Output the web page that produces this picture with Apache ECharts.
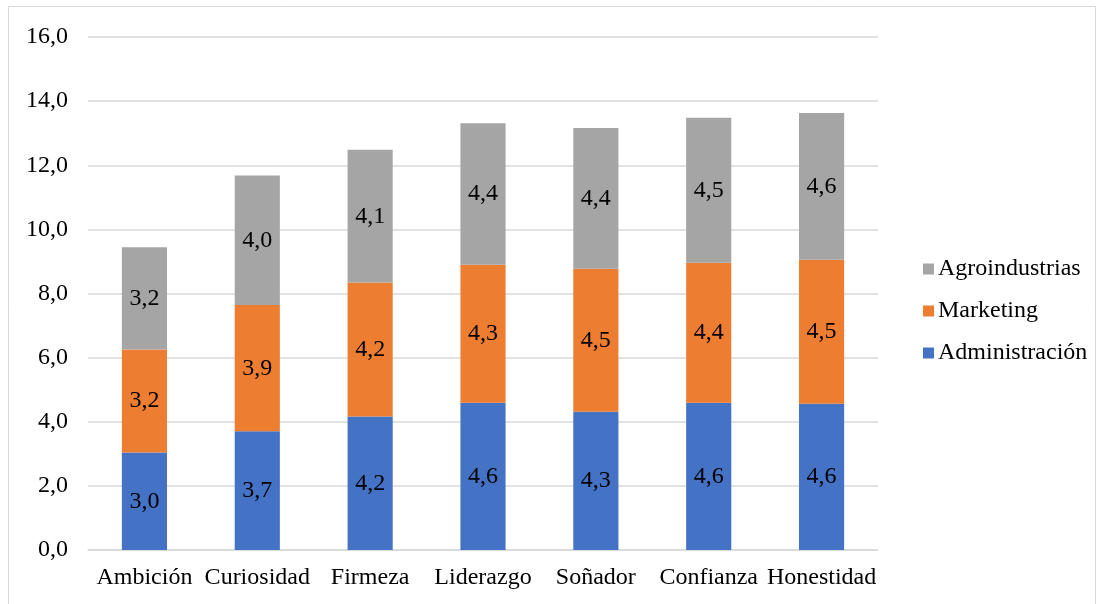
<!DOCTYPE html>
<html>
<head>
<meta charset="utf-8">
<script src="https://cdn.jsdelivr.net/npm/echarts@6/dist/echarts.min.js"></script>
<style>
  html, body { margin: 0; padding: 0; background: #fff; }
  #chart { width: 1103px; height: 604px; }
</style>
</head>
<body>
<div id="chart"></div>
<script>
const categories = ['Ambición', 'Curiosidad', 'Firmeza', 'Liderazgo', 'Soñador', 'Confianza', 'Honestidad']
const administracion = [3.04, 3.70, 4.16, 4.59, 4.31, 4.59, 4.56]
const marketing = [3.21, 3.94, 4.18, 4.31, 4.46, 4.37, 4.49]
const agroindustrias = [3.19, 4.04, 4.14, 4.41, 4.39, 4.52, 4.58]
const yTicks = { min: 0, max: 16, interval: 2 }

const fontFamily = '"Liberation Serif", "Times New Roman", serif'
const fmt = v => v.toFixed(1).replace('.', ',')

const chart = echarts.init(document.getElementById('chart'))

const makeSeries = (name, data, color) => ({
  name,
  type: 'bar',
  stack: 'total',
  data,
  barWidth: '40%',
  itemStyle: { color },
  label: {
    show: true,
    position: 'inside',
    color: '#000',
    fontFamily,
    fontSize: 24,
    formatter: p => fmt(p.value)
  }
})

const option = {
  animation: false,
  textStyle: { fontFamily },
  graphic: [{
    type: 'rect',
    shape: { x: 8.5, y: 6.5, width: 1087, height: 600 },
    style: { fill: 'none', stroke: '#d9d9d9', lineWidth: 1 },
    silent: true
  }],
  grid: {
    left: 88,
    right: 225,
    top: 37,
    bottom: 54
  },
  legend: {
    orient: 'vertical',
    left: 918,
    top: 252,
    data: ['Agroindustrias', 'Marketing', 'Administración'],
    icon: 'rect',
    itemWidth: 11,
    itemHeight: 11,
    itemGap: 18,
    textStyle: { fontFamily, fontSize: 24, color: '#000', padding: [0, 0, 0, -1] }
  },
  xAxis: {
    type: 'category',
    data: categories,
    axisLine: { lineStyle: { color: '#d9d9d9', width: 1.5 } },
    axisTick: { show: false },
    axisLabel: { color: '#000', fontSize: 24, fontFamily, margin: 16, interval: 0 }
  },
  yAxis: {
    type: 'value',
    min: yTicks.min,
    max: yTicks.max,
    interval: yTicks.interval,
    axisLine: { show: false },
    axisTick: { show: false },
    splitLine: { lineStyle: { color: '#d9d9d9', width: 1.5 } },
    axisLabel: { color: '#000', fontSize: 24, fontFamily, margin: 20, formatter: v => fmt(v) }
  },
  series: [
    makeSeries('Administración', administracion, '#4472c4'),
    makeSeries('Marketing', marketing, '#ed7d31'),
    makeSeries('Agroindustrias', agroindustrias, '#a5a5a5')
  ]
}

chart.setOption(option)
</script>
</body>
</html>
